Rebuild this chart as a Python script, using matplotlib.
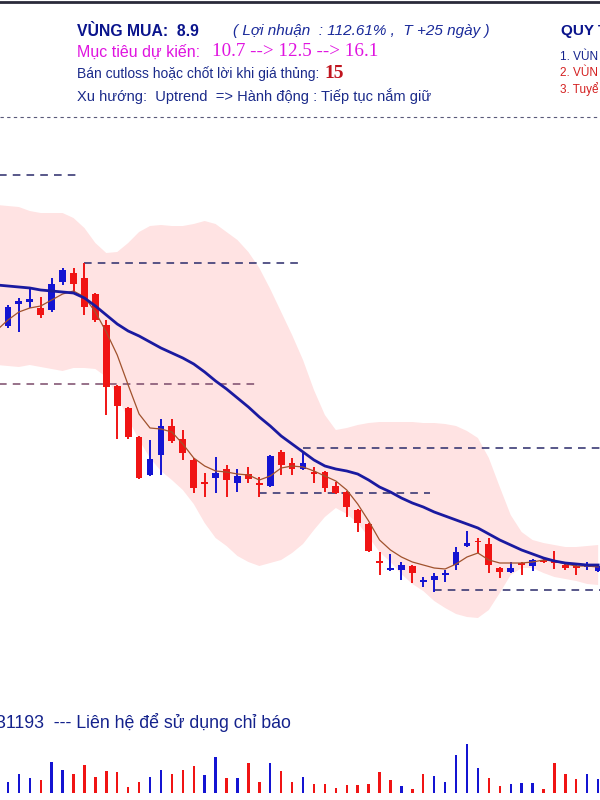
import numpy as np
import matplotlib
matplotlib.use("Agg")
import matplotlib.pyplot as plt
from matplotlib.lines import Line2D

# ---- data (prices / volumes) ----
opens = [21.4, 22.1, 23.2, 23.3, 23.0, 22.9, 24.3, 24.75, 24.5, 23.7,
         22.15, 19.1, 18.0, 16.55, 14.65, 15.65, 17.1, 16.45, 15.4, 14.3,
         14.5, 14.95, 14.25, 14.7, 14.25, 14.1, 15.8, 15.25, 14.95, 14.8,
         14.8, 14.1, 13.8, 12.9, 12.2, 10.35, 9.9, 9.9, 10.1, 9.3,
         9.4, 9.65, 10.15, 11.1, 11.35, 11.2, 10.0, 9.8, 10.25, 10.1,
         10.4, 10.35, 10.15, 10.1, 10.05, 9.85]
highs = [22.65, 23.15, 23.5, 24.05, 23.55, 24.5, 25.0, 25.0, 25.25, 23.75,
         22.4, 19.15, 18.05, 16.6, 16.4, 17.45, 17.45, 16.9, 15.5, 14.75,
         15.55, 15.15, 14.95, 15.05, 14.55, 15.65, 15.9, 15.5, 15.85, 15.05,
         14.85, 14.3, 13.85, 12.95, 12.25, 10.8, 10.7, 10.3, 10.15, 9.55,
         9.75, 9.9, 11.05, 11.85, 11.5, 11.5, 10.05, 10.3, 10.3, 10.45,
         10.5, 10.85, 10.3, 10.15, 10.3, 10.2]
lows = [21.3, 22.0, 21.8, 23.0, 22.5, 22.8, 24.15, 23.8, 22.65, 22.3,
        17.65, 16.45, 16.45, 14.45, 14.6, 14.65, 16.25, 15.4, 13.75, 13.55,
        13.75, 13.55, 13.8, 14.25, 13.55, 14.05, 14.65, 14.65, 14.9, 14.25,
        13.8, 13.7, 12.55, 11.8, 10.8, 9.65, 9.85, 9.4, 9.25, 9.05,
        8.8, 9.3, 9.9, 11.05, 10.75, 9.75, 9.5, 9.75, 9.65, 9.85,
        10.25, 9.95, 9.9, 9.65, 9.9, 9.8]
closes = [22.4, 23.05, 23.35, 23.45, 22.65, 24.2, 24.9, 24.2, 23.05, 22.4,
          19.05, 18.1, 16.55, 14.5, 15.45, 17.1, 16.35, 15.75, 14.0, 14.2,
          14.75, 14.4, 14.6, 14.45, 14.15, 15.6, 15.15, 14.95, 15.25, 14.7,
          14.0, 13.75, 13.05, 12.25, 10.85, 10.25, 10.0, 10.15, 9.75, 9.4,
          9.6, 9.75, 10.8, 11.25, 11.28, 10.15, 9.8, 10.0, 10.15, 10.4,
          10.3, 10.25, 10.0, 10.0, 10.1, 10.12]
volumes = [300, 214, 374, 306, 260, 626, 460, 374, 560, 314,
           446, 414, 126, 214, 326, 460, 374, 460, 540, 360,
           726, 294, 306, 594, 226, 594, 446, 226, 326, 180,
           180, 94, 160, 160, 180, 426, 260, 140, 74, 374,
           340, 226, 760, 980, 494, 306, 140, 180, 194, 194,
           74, 594, 374, 280, 386, 274]

ma_slow = [24.15, 24.1, 24.05, 24.0, 23.9, 23.85, 23.8, 23.75, 23.5, 23.1,
           22.65, 22.2, 21.85, 21.6, 21.3, 21.0, 20.75, 20.5, 20.2, 19.8,
           19.35, 18.95, 18.5, 18.05, 17.55, 17.1, 16.6, 16.2, 15.8, 15.4,
           15.1, 14.95, 14.85, 14.7, 14.4, 14.05, 13.8, 13.5, 13.25, 13.05,
           12.8, 12.6, 12.4, 12.2, 12.0, 11.7, 11.4, 11.15, 10.9, 10.7,
           10.5, 10.35, 10.25, 10.2, 10.15, 10.15]
ma_fast = [21.9, 22.4, 22.8, 23.0, 23.1, 23.4, 23.7, 23.85, 23.55, 22.8,
           21.8, 20.65, 19.15, 17.7, 17.0, 16.95, 16.8, 16.2, 15.5, 15.1,
           14.85, 14.8, 14.7, 14.65, 14.4, 14.6, 15.0, 15.1, 15.05, 14.85,
           14.6, 14.35, 13.9, 13.2, 12.35, 11.4, 10.9, 10.55, 10.3, 10.15,
           10.0, 9.95, 10.2, 10.55, 10.75, 10.4, 10.25, 10.25, 10.25, 10.3,
           10.4, 10.35, 10.2, 10.1, 10.1, 10.05]
band_up = [28.15, 28.1, 28.05, 27.85, 27.75, 27.75, 27.75, 27.5, 27.0, 26.25,
           25.75, 25.8, 26.25, 26.8, 27.1, 27.15, 27.1, 27.1, 27.2, 27.35,
           27.2, 26.8, 26.4, 25.8, 25.0, 23.95, 22.8, 21.65, 20.4, 18.9,
           17.65, 16.9, 17.0, 17.15, 17.25, 17.3, 17.3, 17.3, 17.3, 17.25,
           17.25, 17.2, 17.1, 16.85, 16.5, 15.5, 14.05, 12.65, 11.8, 11.4,
           11.25, 11.15, 11.05, 11.05, 11.1, 11.15]
band_lo = [20.15, 20.1, 20.05, 20.15, 20.05, 19.95, 19.85, 20.0, 20.0, 19.95,
           19.55, 18.6, 17.45, 16.4, 15.5, 14.85, 14.4, 13.9, 13.2, 12.25,
           11.5, 11.1, 10.6, 10.3, 10.1, 10.25, 10.4, 10.75, 11.2, 11.9,
           12.55, 13.0, 12.7, 12.25, 11.55, 10.8, 10.3, 9.7, 9.2, 8.85,
           8.35, 8.0, 7.7, 7.55, 7.5, 7.9, 8.75, 9.65, 10.0, 10.0,
           9.75, 9.55, 9.45, 9.35, 9.2, 9.15]

# support / resistance levels: (price, start index, end index, colour)
levels = [(29.65, -1, 7.4, "#2a2a6a"),
          (25.25, 8, 27.5, "#2a2a6a"),
          (19.2, -1, 23.6, "#7a4a6a"),
          (16.0, 28, 57, "#2a2a6a"),
          (13.75, 24, 39.6, "#2a2a6a"),
          (8.9, 40, 57, "#2a2a6a")]

UP, DOWN = "#1414d2", "#f01414"
NAVY = "#14228c"

fig = plt.figure(figsize=(6, 8), dpi=100)
fig.patch.set_facecolor("white")
plt.rcParams["font.family"] = ["Liberation Sans", "DejaVu Sans"]

x = np.arange(len(closes))
o, h, l, c = map(np.array, (opens, highs, lows, closes))
up = c >= o
cols = np.where(up, UP, DOWN)

# ---- price panel ----
ax = fig.add_axes([0, 0.125, 1, 0.725])
ax.set_xlim(3 / 10.93, 603 / 10.93)
ax.set_ylim(3.4, 32.4)
ax.axis("off")

ax.fill_between(x, band_lo, band_up, color="#ffe3e3", lw=0, zorder=0)
for price, x0, x1, col in levels:
    ax.hlines(price, x0, x1, colors=col, lw=1.1, linestyles=(0, (5, 4)), zorder=1)

ax.vlines(x, l, h, colors=cols, lw=1.4, zorder=3)
body = np.maximum(np.abs(c - o), 0.09)
ax.bar(x, body, bottom=np.minimum(o, c), width=0.62, color=cols, lw=0, zorder=4)

ax.plot(x, ma_fast, color="#a0522d", lw=0.9, zorder=5)
ax.plot(x, ma_slow, color="#1a1aa0", lw=2.0, zorder=6)

# ---- volume panel ----
vol_col = [UP] + [UP if c[i] > c[i - 1] else DOWN for i in range(1, len(c))]
axv = fig.add_axes([0, 0.00875, 1, 0.0625])
axv.set_xlim(3 / 10.93, 603 / 10.93)
axv.set_ylim(0, 1000)
axv.axis("off")
axv.bar(x, volumes, width=0.22, color=vol_col, lw=0)

# ---- header texts ----
def px(xp, yp):
    return xp / 600, 1 - yp / 800

fig.add_artist(Line2D([0, 1], [1 - 1.5 / 800] * 2, color="#2a2a3a", lw=2))
fig.add_artist(Line2D([0, 1], [1 - 117 / 800] * 2, color="#5a5a7a", lw=0.8,
                      ls=(0, (3, 3))))

fig.text(*px(77, 31), "VÙNG MUA:  8.9", color="#0a148c", fontsize=11.3,
         fontweight="bold", va="center")
fig.text(*px(233, 31), "( Lợi nhuận  : 112.61% ,  T +25 ngày )", color="#1a2a9a",
         fontsize=11, style="italic", va="center")
fig.text(*px(77, 52), "Mục tiêu dự kiến:", color="#e014e0", fontsize=11.5, va="center")
fig.text(*px(212, 52), "10.7 --> 12.5 --> 16.1", color="#e014e0", fontsize=13.7,
         family="Liberation Serif", va="center")
fig.text(*px(77, 74), "Bán cutloss hoặc chốt lời khi giá thủng:", color="#1a2a8a",
         fontsize=10, va="center")
fig.text(*px(324, 74), "15", color="#c0141e", fontsize=14, fontweight="bold",
         family="Liberation Serif", va="center")
fig.text(*px(77, 96), "Xu hướng:  Uptrend  => Hành động : Tiếp tục nắm giữ",
         color="#1a2a8a", fontsize=10.5, va="center")

fig.text(*px(561, 31), "QUY T", color="#0a148c", fontsize=11,
         fontweight="bold", va="center")
fig.text(*px(560, 57), "1. VÙN", color=NAVY, fontsize=8.5, va="center")
fig.text(*px(560, 73), "2. VÙN", color="#d42020", fontsize=8.5, va="center")
fig.text(*px(560, 89), "3. Tuyể", color="#d42020", fontsize=8.5, va="center")

fig.text(*px(-4, 722), "31193  --- Liên hệ để sử dụng chỉ báo", color=NAVY,
         fontsize=12.8, va="center")

fig.savefig("out.png", dpi=100)
